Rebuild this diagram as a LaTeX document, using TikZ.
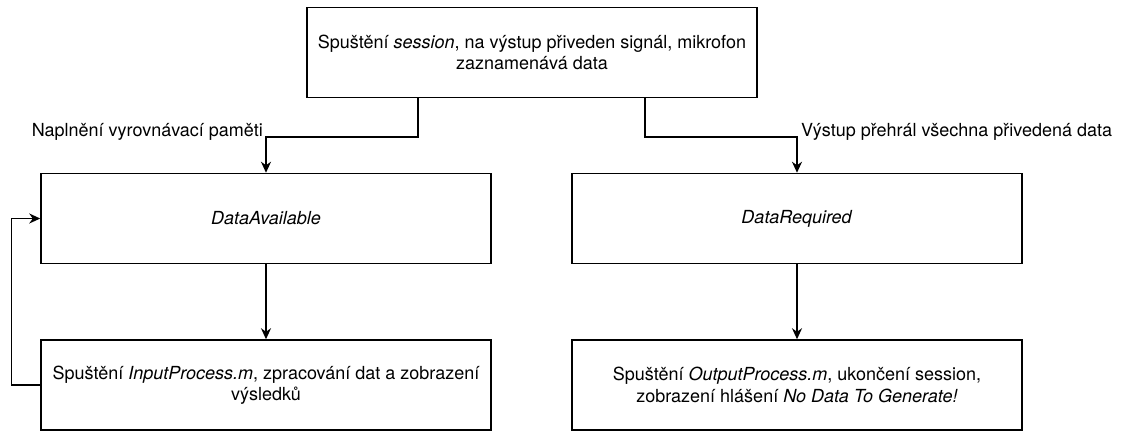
\documentclass[tikz,border=0pt]{standalone}
\usepackage{fontspec}
\setmainfont{TeX Gyre Heros}
\usetikzlibrary{arrows.meta}
\begin{document}
\begin{tikzpicture}[x=1pt,y=-1pt,
  every node/.style={font=\fontsize{18pt}{21.5pt}\selectfont},
  box/.style={draw, line width=1.5pt, minimum width=450pt, minimum height=90pt,
              inner sep=0pt, align=center, fill=white},
  arr/.style={line width=1.5pt, -{Stealth[length=11pt,width=10pt,inset=3.5pt]}},
  lbl/.style={inner sep=0pt}]
\useasboundingbox (0,0) rectangle (1121,432);

% boxes
\node[box] (top) at (532,52.5) {Spuštění \textit{session}, na výstup přiveden signál, mikrofon\\zaznamenává data};
\node[box] (da) at (266,218.5) {\textit{DataAvailable}};
\node[box] (dr) at (797,218.5) {\textit{DataRequired}};
\node[box] (ip) at (266,385) {Spuštění \textit{InputProcess.m}, zpracování dat a zobrazení\\výsledků};
\node[box] (op) at (797,385) {Spuštění \textit{OutputProcess.m}, ukončení session,\\zobrazení hlášení \textit{No Data To Generate!}};

% connectors from the start box
\draw[arr] ([xshift=-114pt]top.south) -- ++(0,38.5) -| (da.north);
\draw[arr] ([xshift=113pt]top.south) -- ++(0,38.5) -| (dr.north);

% edge labels
\node[lbl, anchor=base east] (lblda) at (263,136) {Naplnění vyrovnávací paměti};
\node[lbl, anchor=base west] (lbldr) at (801,136) {Výstup přehrál všechna přivedená data};

% downward steps
\draw[arr] (da) -- (ip);
\draw[arr] (dr) -- (op);

% loop back to DataAvailable
\draw[arr] (ip.west) -- ++(-29,0) |- (da.west);
\end{tikzpicture}
\end{document}
